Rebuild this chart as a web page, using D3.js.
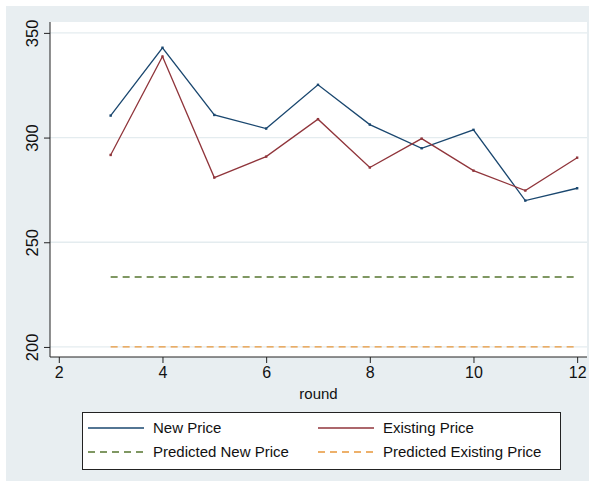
<!DOCTYPE html>
<html>
<head>
<meta charset="utf-8">
<script src="https://cdn.jsdelivr.net/npm/d3@7"></script>
<style>
  body { margin: 0; background: #fff; }
  svg { display: block; font-family: "Liberation Sans", Arial, sans-serif; }
</style>
</head>
<body>
<svg id="chart" width="595" height="487"></svg>
<script>
// data
const rounds = [3, 4, 5, 6, 7, 8, 9, 10, 11, 12]
const newPrice = [310.5, 342.9, 310.8, 304.3, 325.2, 306.2, 294.9, 303.7, 269.9, 275.8]
const existingPrice = [291.7, 338.7, 280.9, 290.9, 308.8, 285.7, 299.5, 284.2, 274.7, 290.4]
const predictedNew = [233.4, 233.4, 233.4, 233.4, 233.4, 233.4, 233.4, 233.4, 233.4, 233.4]
const predictedExisting = [200, 200, 200, 200, 200, 200, 200, 200, 200, 200]
const xTicks = [2, 4, 6, 8, 10, 12]
const yTicks = [200, 250, 300, 350]

const seriesList = [
  {name: 'New Price', values: newPrice, color: '#1a476f', dash: null},
  {name: 'Existing Price', values: existingPrice, color: '#90353b', dash: null},
  {name: 'Predicted New Price', values: predictedNew, color: '#55752f', dash: '7,5'},
  {name: 'Predicted Existing Price', values: predictedExisting, color: '#e8963a', dash: '7,5'}
]

const svg = d3.select('#chart')
const bg = '#e8eef1'

svg.append('rect')
  .attr('x', 6).attr('y', 6)
  .attr('width', 583).attr('height', 475)
  .attr('fill', bg)

const pLeft = 50, pRight = 587, pTop = 22, pBottom = 357

svg.append('rect')
  .attr('x', pLeft).attr('y', pTop)
  .attr('width', pRight - pLeft).attr('height', pBottom - pTop)
  .attr('fill', 'white')

const x = d3.scaleLinear().domain([1.83, 12.19]).range([pLeft, pRight])
const y = d3.scaleLinear().domain([195.2, 355.2]).range([pBottom, pTop])

// gridlines
svg.append('g')
  .selectAll('line')
  .data(yTicks)
  .enter()
  .append('line')
  .attr('x1', pLeft).attr('x2', pRight)
  .attr('y1', d => y(d)).attr('y2', d => y(d))
  .attr('stroke', '#e4ecef')
  .attr('stroke-width', 1.3)

// axes
const yAxis = svg.append('g')
  .attr('transform', `translate(${pLeft},0)`)
  .call(d3.axisLeft(y).tickValues(yTicks).tickSize(6).tickPadding(5))
yAxis.select('.domain').attr('d', `M0,${pTop}V${pBottom}`).attr('stroke', '#222')
yAxis.selectAll('.tick line').attr('stroke', '#222')
yAxis.selectAll('.tick text')
  .attr('transform', 'rotate(-90)')
  .attr('x', 0).attr('y', -12)
  .attr('dy', 0)
  .style('text-anchor', 'middle')
  .style('font-size', '16.5px')
  .attr('fill', '#111')

const xAxis = svg.append('g')
  .attr('transform', `translate(0,${pBottom})`)
  .call(d3.axisBottom(x).tickValues(xTicks).tickSize(6).tickPadding(4))
xAxis.select('.domain').attr('d', `M${pLeft},0H${pRight}`).attr('stroke', '#222')
xAxis.selectAll('.tick line').attr('stroke', '#222')
xAxis.selectAll('.tick text')
  .style('font-size', '16px')
  .attr('fill', '#111')

svg.append('text')
  .attr('x', (pLeft + pRight) / 2)
  .attr('y', 399)
  .style('text-anchor', 'middle')
  .style('font-size', '15px')
  .attr('fill', '#111')
  .text('round')

// lines
const line = d3.line()
  .x((d, i) => x(rounds[i]))
  .y(d => y(d))

let series = svg.append('g')
  .selectAll('g')
  .data(seriesList)
  .enter()
  .append('g')

series.append('path')
  .attr('d', d => line(d.values))
  .attr('fill', 'none')
  .attr('stroke', d => d.color)
  .attr('stroke-width', 1.3)
  .attr('stroke-dasharray', d => d.dash)

series.filter(d => !d.dash)
  .selectAll('rect')
  .data(d => d.values.map((v, i) => ({v: v, r: rounds[i], color: d.color})))
  .enter()
  .append('rect')
  .attr('x', d => x(d.r) - 1.2)
  .attr('y', d => y(d.v) - 1.2)
  .attr('width', 2.4).attr('height', 2.4)
  .attr('fill', d => d.color)

// legend
const legend = svg.append('g')
legend.append('rect')
  .attr('x', 82.5).attr('y', 412.5)
  .attr('width', 478).attr('height', 57)
  .attr('fill', 'white')
  .attr('stroke', '#222')

const legItems = legend.selectAll('g')
  .data(seriesList)
  .enter()
  .append('g')
  .attr('transform', (d, i) => `translate(${i % 2 === 0 ? 88 : 318},${i < 2 ? 428 : 452})`)

legItems.append('line')
  .attr('x1', 0).attr('x2', 56)
  .attr('stroke', d => d.color)
  .attr('stroke-width', 1.3)
  .attr('stroke-dasharray', d => d.dash)

legItems.append('text')
  .attr('x', 65)
  .attr('dy', '0.35em')
  .style('font-size', '15px')
  .attr('fill', '#111')
  .text(d => d.name)
</script>
</body>
</html>
